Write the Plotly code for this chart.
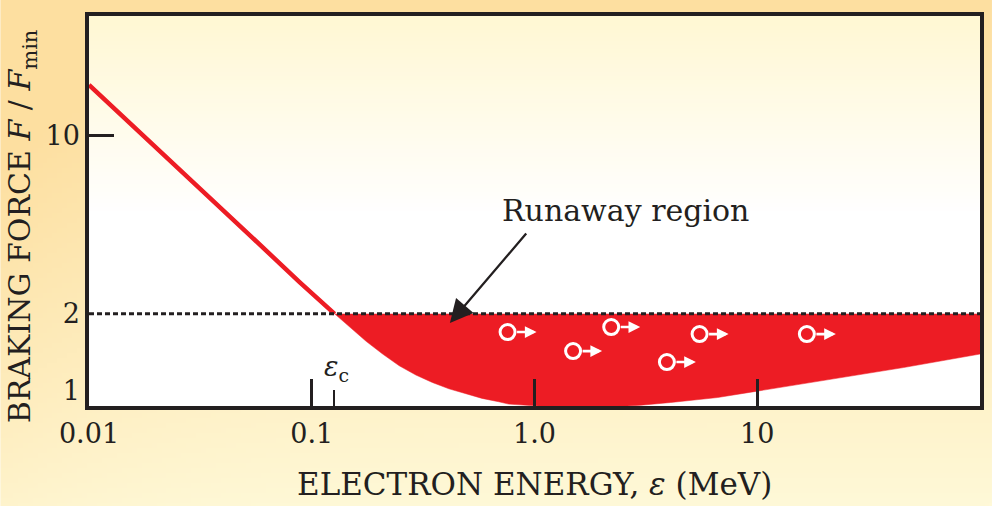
import base64
import struct
import zlib
import math

import numpy as np
import plotly.graph_objects as go

# ---------------- data ----------------
energy_left = [0.01, 0.0189, 0.0316, 0.0529, 0.0884, 0.1267]          # MeV
force_left = [15.85, 9.46, 6.18, 4.06, 2.66, 2.0]                      # F / Fmin

energy_right = [0.1267, 0.1478, 0.1754, 0.2081, 0.2471, 0.2934, 0.3478,
                0.4132, 0.4905, 0.5817, 0.6909, 0.7655, 1.0, 1.5, 2.2, 3.0,
                4.09, 6.63, 10.0, 22.8, 45.3, 100.0]
force_right = [2.0, 1.78, 1.56, 1.39, 1.25, 1.15, 1.075,
               1.015, 0.972, 0.931, 0.903, 0.884, 0.87, 0.86, 0.862, 0.875,
               0.897, 0.938, 0.994, 1.114, 1.23, 1.39]

threshold_force = 2.0
energy_span = [0.01, 100.0]
critical_energy = 0.1255

electron_energy = [0.757, 1.49, 2.21, 3.93, 5.51, 16.7]
electron_force = [1.696, 1.428, 1.775, 1.293, 1.665, 1.665]

x_tickvals = [0.01, 0.1, 1.0, 10.0]
x_ticktext = ["0.01", "0.1", "1.0", "10"]
y_tickvals = [1, 2, 10]
y_ticktext = ["1", "2", "10"]

label_runaway = "Runaway region"
label_pointer_head = (0.417, 1.84)
label_pointer_tail = (0.93, 4.19)
label_pos = (2.57, 5.11)

# ---------------- styling ----------------
W, H = 996, 506
ML, MR, MT, MB = 89, 12, 16, 100
PW, PH = W - ML - MR, H - MT - MB
RED = "#ED1C24"
INK = "#231F20"
FONT = "DejaVu Serif"


def png_uri(arr):
    arr = np.ascontiguousarray(arr.astype(np.uint8))
    h, w, _ = arr.shape
    raw = b"".join(b"\x00" + arr[i].tobytes() for i in range(h))

    def chunk(t, d):
        c = struct.pack(">I", len(d)) + t + d
        return c + struct.pack(">I", zlib.crc32(t + d) & 0xFFFFFFFF)

    png = (b"\x89PNG\r\n\x1a\n"
           + chunk(b"IHDR", struct.pack(">IIBBBBB", w, h, 8, 2, 0, 0, 0))
           + chunk(b"IDAT", zlib.compress(raw, 9))
           + chunk(b"IEND", b""))
    return "data:image/png;base64," + base64.b64encode(png).decode()


# paper gradient: orange at top (and a bit at the left) -> pale yellow below
gy, gx = np.mgrid[0:101, 0:200]
ty = gy / 100.0
tx = gx / 199.0
a = np.clip((1 - ty) ** 0.9 + 0.3 * (1 - tx) ** 6 * (1 - 0.3 * ty), 0, 1)[..., None]
orange = np.array([253, 223, 160])
pale = np.array([255, 249, 216])
paper_img = pale * (1 - a) + orange * a

# plot-area gradient: pale yellow at top -> white by mid height
py_, px_ = np.mgrid[0:101, 0:4]
b = np.clip(1 - (py_ / 100.0) / 0.5, 0, 1)[..., None]
top_col = np.array([255, 248, 212])
white = np.array([255, 255, 255])
plot_img = white * (1 - b) + top_col * b

fig = go.Figure()

# runaway region fill between threshold and curve
fig.add_trace(go.Scatter(x=energy_right, y=[threshold_force] * len(energy_right),
                         mode="lines", line=dict(width=0, color=RED),
                         hoverinfo="skip", showlegend=False))
fig.add_trace(go.Scatter(x=energy_right, y=force_right, mode="lines",
                         line=dict(width=0.5, color=RED),
                         fill="tonexty", fillcolor=RED,
                         hoverinfo="skip", showlegend=False))
# left braking-force branch
fig.add_trace(go.Scatter(x=energy_left, y=force_left, mode="lines",
                         line=dict(width=4.5, color=RED),
                         showlegend=False))
# dashed threshold line
fig.add_trace(go.Scatter(x=energy_span, y=[threshold_force, threshold_force],
                         mode="lines", line=dict(width=3, color=INK, dash="5px,3px"),
                         showlegend=False))
# electrons
fig.add_trace(go.Scatter(x=electron_energy, y=electron_force, mode="markers",
                         marker=dict(symbol="circle-open", size=15, color="white",
                                     line=dict(width=3, color="white")),
                         showlegend=False))

annotations = []
for e, f in zip(electron_energy, electron_force):
    annotations.append(dict(x=math.log10(e), y=math.log10(f), xref="x", yref="y",
                            text="", showarrow=True, xshift=29, ax=-21, ay=0,
                            arrowcolor="white", arrowwidth=2.6, arrowhead=2,
                            arrowsize=0.9))

annotations.append(dict(x=math.log10(label_pointer_head[0]), y=math.log10(label_pointer_head[1]),
                        ax=math.log10(label_pointer_tail[0]), ay=math.log10(label_pointer_tail[1]),
                        xref="x", yref="y", axref="x", ayref="y", text="",
                        showarrow=True, arrowcolor=INK, arrowwidth=2.3, arrowhead=2,
                        arrowsize=2.0))
annotations.append(dict(x=math.log10(label_pos[0]), y=math.log10(label_pos[1]),
                        xref="x", yref="y", text=label_runaway, showarrow=False,
                        font=dict(family=FONT, size=30, color=INK)))
annotations.append(dict(x=math.log10(critical_energy * 1.03), y=0.045, xref="x", yref="paper",
                        text="<i>ε</i><sub>c</sub>", showarrow=False, xanchor="center",
                        yanchor="bottom", font=dict(family=FONT, size=27, color=INK)))
annotations.append(dict(x=0.5, y=-0.2, xref="paper", yref="paper",
                        text="ELECTRON ENERGY, <i>ε</i> (MeV)", showarrow=False,
                        xanchor="center", yanchor="middle",
                        font=dict(family=FONT, size=31, color=INK)))
annotations.append(dict(x=(21 - ML) / PW, y=(H - MB - 226) / PH, xref="paper", yref="paper",
                        text="BRAKING FORCE <i>F</i> / <i>F</i><sub>min</sub>",
                        showarrow=False, textangle=-90, xanchor="center", yanchor="middle",
                        font=dict(family=FONT, size=30, color=INK)))

fig.update_layout(
    width=W, height=H,
    margin=dict(l=ML, r=MR, t=MT, b=MB, pad=0),
    paper_bgcolor="rgba(0,0,0,0)",
    plot_bgcolor="rgba(0,0,0,0)",
    showlegend=False,
    hovermode=False,
    annotations=annotations,
    images=[
        dict(source=png_uri(paper_img), xref="paper", yref="paper",
             x=-ML / PW, y=1 + MT / PH, sizex=W / PW, sizey=H / PH,
             xanchor="left", yanchor="top", sizing="stretch", layer="below"),
        dict(source=png_uri(plot_img), xref="paper", yref="paper",
             x=0, y=1, sizex=1, sizey=1,
             xanchor="left", yanchor="top", sizing="stretch", layer="below"),
    ],
    xaxis=dict(type="log", range=[-2, 2], showgrid=False, zeroline=False,
               showline=True, linewidth=3.5, linecolor=INK, mirror=True,
               tickmode="array", tickvals=x_tickvals, ticktext=x_ticktext,
               ticks="inside", ticklen=27, tickwidth=3, tickcolor=INK,
               ticklabelstandoff=1,
               tickfont=dict(family=FONT, size=27, color=INK),
               minor=dict(tickmode="array", tickvals=[critical_energy], ticks="inside",
                          ticklen=16, tickwidth=2, tickcolor=INK, showgrid=False)),
    yaxis=dict(type="log", range=[-0.061, 1.471], showgrid=False, zeroline=False,
               showline=True, linewidth=3.5, linecolor=INK, mirror=True,
               tickmode="array", tickvals=y_tickvals, ticktext=y_ticktext,
               ticks="", ticklabelstandoff=0,
               tickfont=dict(family=FONT, size=27, color=INK),
               minor=dict(tickmode="array", tickvals=[10], ticks="inside",
                          ticklen=25, tickwidth=3, tickcolor=INK, showgrid=False)),
)

fig.write_html("out.html", config={"displayModeBar": False},
               post_script="document.body.style.margin='0';document.body.style.padding='0';")
